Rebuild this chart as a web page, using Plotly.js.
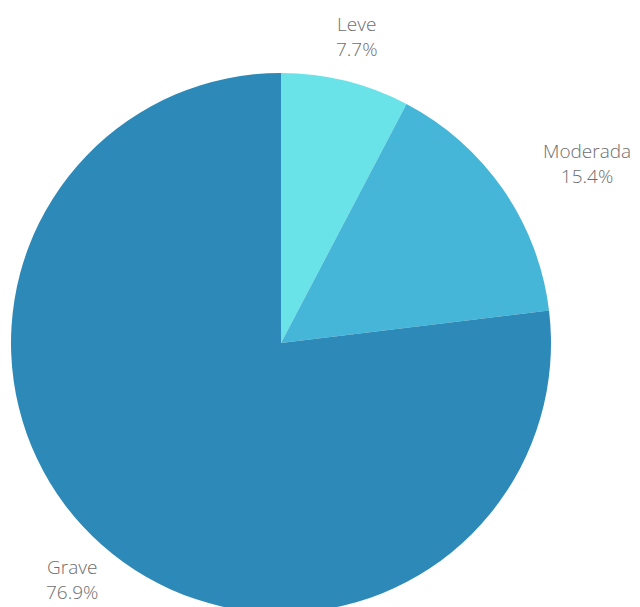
<!DOCTYPE html>
<html>
<head>
<meta charset="utf-8">
<script src="https://cdn.plot.ly/plotly-3.0.1.min.js"></script>
<style>
html,body{margin:0;padding:0;overflow:hidden;background:#fff;}
#chart{width:640px;height:620px;}
</style>
</head>
<body>
<div id="chart"></div>
<script>
const categories = ["Leve", "Moderada", "Grave"];
const values = [1, 2, 10];
const colors = ["#69e3e8", "#45b6d7", "#2c89b8"];
const labelAnchors = ["center", "left", "center"];

const W = 640, H = 620;
const cx = 281, cy = 343, R = 270;   // pie geometry in pixels
const labelDist = 1.17;              // label distance as a fraction of radius

const trace = {
  type: "pie",
  labels: categories,
  values: values,
  sort: false,
  direction: "clockwise",
  rotation: 0,
  marker: {colors: colors, line: {width: 0}},
  textinfo: "none",
  hoverinfo: "none",
  domain: {x: [(cx - R) / W, (cx + R) / W], y: [1 - (cy + R) / H, 1 - (cy - R) / H]},
  automargin: false
};

const total = values.reduce((a, b) => a + b, 0);
let cum = 0;
const annotations = categories.map((c, i) => {
  const mid = (cum + values[i] / 2) / total * 2 * Math.PI;
  cum += values[i];
  const px = cx + Math.sin(mid) * R * labelDist;
  const py = cy - Math.cos(mid) * R * labelDist;
  return {
    xref: "paper", yref: "paper",
    x: px / W, y: 1 - py / H,
    xanchor: labelAnchors[i], yanchor: "middle",
    align: "center",
    showarrow: false,
    text: c + "<br>" + (values[i] / total * 100).toFixed(1) + "%",
    font: {family: "Open Sans, sans-serif", size: 19, color: "#6e6e6e", weight: 300}
  };
});

const layout = {
  width: W,
  height: H,
  margin: {l: 0, r: 0, t: 0, b: 0},
  showlegend: false,
  paper_bgcolor: "#ffffff",
  font: {family: "Open Sans, sans-serif", color: "#6e6e6e"},
  annotations: annotations
};

Plotly.newPlot("chart", [trace], layout, {displayModeBar: false, staticPlot: true});
</script>
</body>
</html>
